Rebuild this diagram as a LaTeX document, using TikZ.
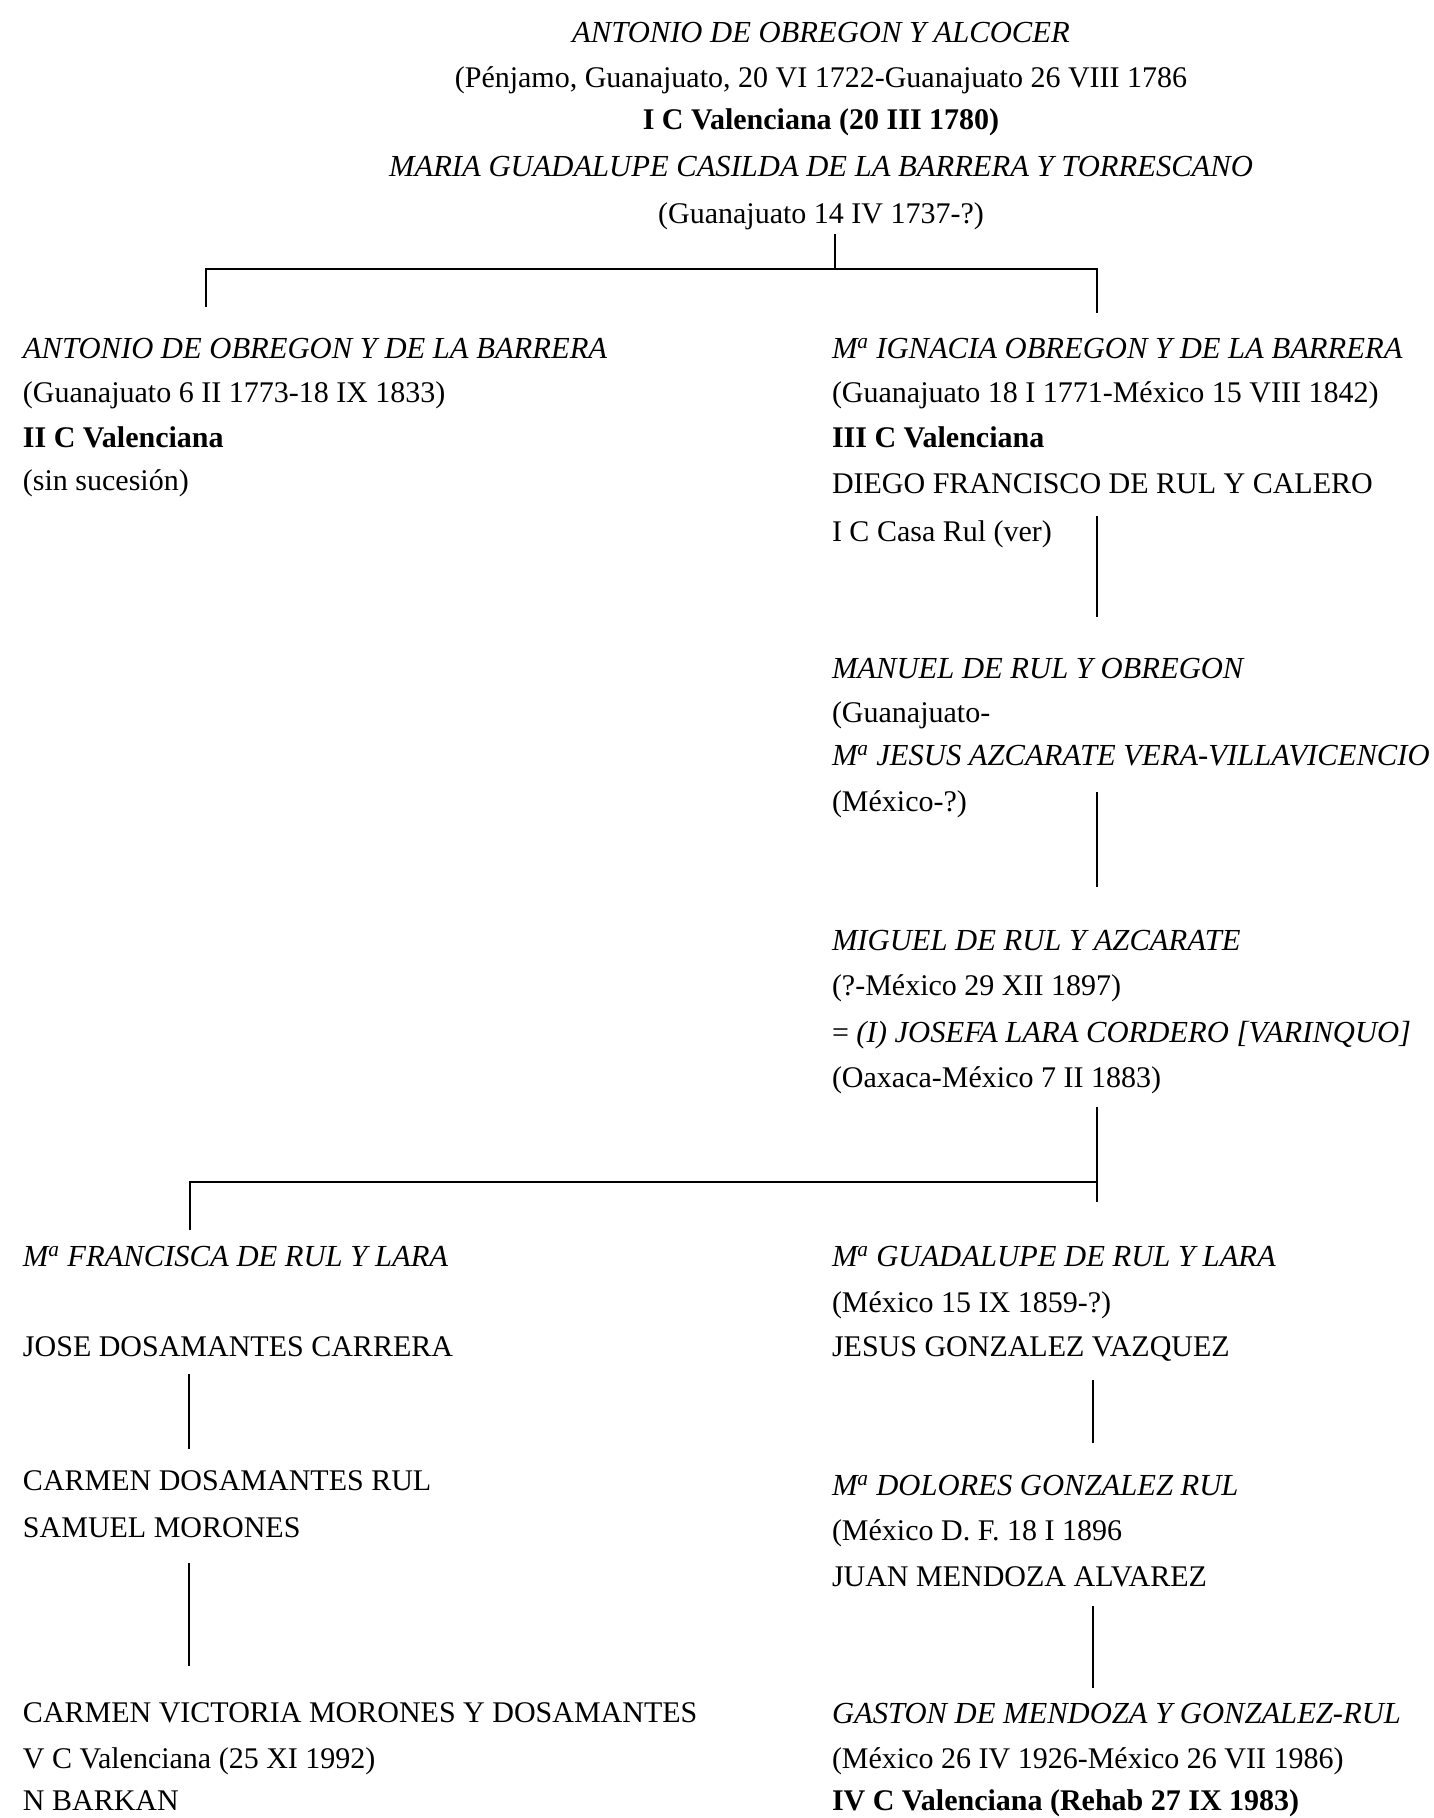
\documentclass[tikz,border=0pt]{standalone}
\usepackage{fontspec}
\setmainfont{Liberation Serif}
\newcommand\Ma{M\textsuperscript{a}}
\newcommand\nmfont{\fontsize{30.6}{36}\selectfont\itshape}
\begin{document}
\begin{tikzpicture}[x=1pt,y=-1pt,
  every node/.style={inner sep=0pt,outer sep=0pt,font=\fontsize{30}{36}\selectfont},
  nm/.style={font=\nmfont},
  ttl/.style={font=\fontsize{30}{36}\selectfont\bfseries},
  lft/.style={anchor=base west},
  mid/.style={anchor=base},
  link/.style={line width=1.7pt,line cap=butt}]
\useasboundingbox (0,0) rectangle (1434,1818);

% founders
\node[mid,nm]  (t1) at (821,42)  {ANTONIO DE OBREGON Y ALCOCER};
\node[mid]     (t2) at (821,87)  {(Pénjamo, Guanajuato, 20 VI 1722-Guanajuato 26 VIII 1786};
\node[mid,ttl] (t3) at (821,129) {I C Valenciana (20 III 1780)};
\node[mid,nm]  (t4) at (821,176) {MARIA GUADALUPE CASILDA DE LA BARRERA Y TORRESCANO};
\node[mid]     (t5) at (821,223) {(Guanajuato 14 IV 1737-?)};

% second generation, left
\node[lft,nm]  (a1) at (23,358) {ANTONIO DE OBREGON Y DE LA BARRERA};
\node[lft]     (a2) at (23,402) {(Guanajuato 6 II 1773-18 IX 1833)};
\node[lft,ttl] (a3) at (23,447) {II C Valenciana};
\node[lft]     (a4) at (23,490) {(sin sucesión)};

% second generation, right
\node[lft,nm]  (b1) at (832,358) {\Ma{} IGNACIA OBREGON Y DE LA BARRERA};
\node[lft]     (b2) at (832,402) {(Guanajuato 18 I 1771-México 15 VIII 1842)};
\node[lft,ttl] (b3) at (832,447) {III C Valenciana};
\node[lft]     (b4) at (832,493) {DIEGO FRANCISCO DE RUL Y CALERO};
\node[lft]     (b5) at (832,541) {I C Casa Rul (ver)};

% third generation
\node[lft,nm]  (m1) at (832,678) {MANUEL DE RUL Y OBREGON};
\node[lft]     (m2) at (832,722) {(Guanajuato-};
\node[lft,nm]  (m3) at (832,765) {\Ma{} JESUS AZCARATE VERA-VILLAVICENCIO};
\node[lft]     (m4) at (832,811) {(México-?)};

% fourth generation
\node[lft,nm]  (g1) at (832,950)  {MIGUEL DE RUL Y AZCARATE};
\node[lft]     (g2) at (832,995)  {(?-México 29 XII 1897)};
\node[lft]     (g3) at (832,1042) {= {\nmfont (I) JOSEFA LARA CORDERO [VARINQUO]}};
\node[lft]     (g4) at (832,1087) {(Oaxaca-México 7 II 1883)};

% fifth generation, left line
\node[lft,nm]  (f1) at (23,1266) {\Ma{} FRANCISCA DE RUL Y LARA};
\node[lft]     (f2) at (23,1356) {JOSE DOSAMANTES CARRERA};
\node[lft]     (f3) at (23,1490) {CARMEN DOSAMANTES RUL};
\node[lft]     (f4) at (23,1537) {SAMUEL MORONES};
\node[lft]     (f5) at (23,1722) {CARMEN VICTORIA MORONES Y DOSAMANTES};
\node[lft]     (f6) at (23,1768) {V C Valenciana (25 XI 1992)};
\node[lft]     (f7) at (23,1810) {N BARKAN};

% fifth generation, right line
\node[lft,nm]  (h1) at (832,1266) {\Ma{} GUADALUPE DE RUL Y LARA};
\node[lft]     (h2) at (832,1312) {(México 15 IX 1859-?)};
\node[lft]     (h3) at (832,1356) {JESUS GONZALEZ VAZQUEZ};
\node[lft,nm]  (h4) at (832,1495) {\Ma{} DOLORES GONZALEZ RUL};
\node[lft]     (h5) at (832,1540) {(México D. F. 18 I 1896};
\node[lft]     (h6) at (832,1586) {JUAN MENDOZA ALVAREZ};
\node[lft,nm]  (h7) at (832,1723) {GASTON DE MENDOZA Y GONZALEZ-RUL};
\node[lft]     (h8) at (832,1768) {(México 26 IV 1926-México 26 VII 1986)};
\node[lft,ttl] (h9) at (832,1810) {IV C Valenciana (Rehab 27 IX 1983)};

% connector joints
\coordinate (topstem) at (835,234);
\coordinate (topbar)  at (835,269);
\coordinate (barL)    at (206,269);
\coordinate (barR)    at (1097,269);
\coordinate (dropL)   at (206,307);
\coordinate (dropR)   at (1097,313);
\coordinate (rulA)    at (1097,516);
\coordinate (rulB)    at (1097,617);
\coordinate (manA)    at (1097,792);
\coordinate (manB)    at (1097,887);
\coordinate (migA)    at (1097,1107);
\coordinate (migBar)  at (1097,1182);
\coordinate (migB)    at (1097,1202);
\coordinate (barL2)   at (190,1182);
\coordinate (dropL2)  at (190,1230);
\coordinate (dosA)    at (189,1374);
\coordinate (dosB)    at (189,1449);
\coordinate (morA)    at (189,1563);
\coordinate (morB)    at (189,1666);
\coordinate (gonA)    at (1093,1380);
\coordinate (gonB)    at (1093,1443);
\coordinate (menA)    at (1093,1606);
\coordinate (menB)    at (1093,1688);

\draw[link] (topstem) -- (topbar);
\draw[link] (dropL) -- (barL) -- (barR) -- (dropR);
\draw[link] (rulA) -- (rulB);
\draw[link] (manA) -- (manB);
\draw[link] (migA) -- (migB);
\draw[link] (migBar) -- (barL2) -- (dropL2);
\draw[link] (dosA) -- (dosB);
\draw[link] (morA) -- (morB);
\draw[link] (gonA) -- (gonB);
\draw[link] (menA) -- (menB);
\end{tikzpicture}
\end{document}
